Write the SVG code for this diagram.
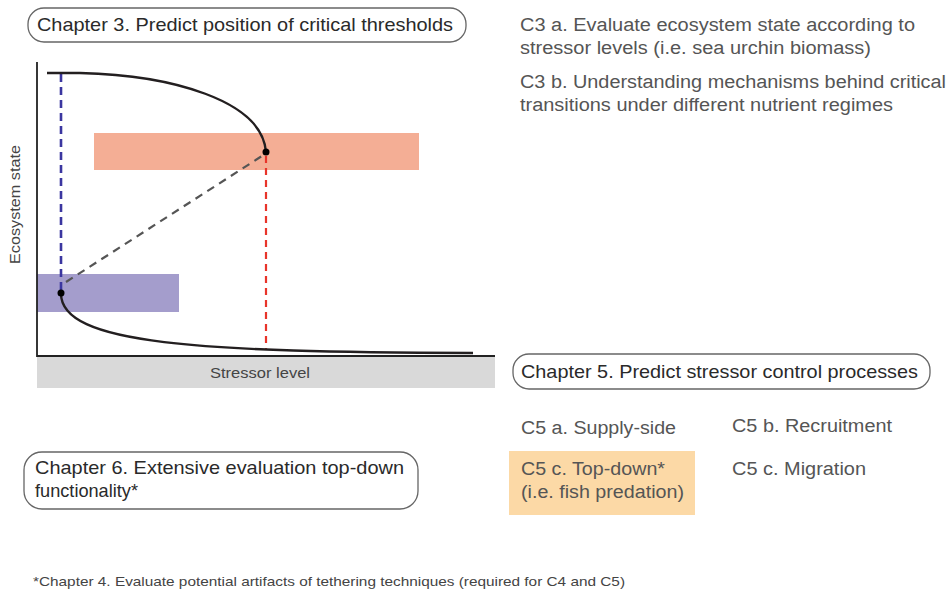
<svg xmlns="http://www.w3.org/2000/svg" width="951" height="590" viewBox="0 0 951 590">
<style>
.t{font-family:"Liberation Sans",Arial,sans-serif;fill:#444;}
.h{font-size:18.5px;fill:#2a2a2a;}
.s{font-size:18px;fill:#555;}
.box{fill:#fff;stroke:#666;stroke-width:1.3;}
.curve{fill:none;stroke:#231f20;stroke-width:2.4;}
</style>
<rect width="951" height="590" fill="#fff"/>
<g id="chapter3">
<rect class="box" x="28" y="8" width="438" height="34" rx="16"/>
<text class="t h" x="37" y="31" textLength="416" lengthAdjust="spacingAndGlyphs">Chapter 3. Predict position of critical thresholds</text>
</g>
<g id="c3-notes">
<text class="t s" x="520" y="31" textLength="395" lengthAdjust="spacingAndGlyphs">C3 a. Evaluate ecosystem state according to</text>
<text class="t s" x="520" y="54" textLength="351" lengthAdjust="spacingAndGlyphs">stressor levels (i.e. sea urchin biomass)</text>
<text class="t s" x="520" y="88" textLength="426" lengthAdjust="spacingAndGlyphs">C3 b. Understanding mechanisms behind critical</text>
<text class="t s" x="520" y="111" textLength="373" lengthAdjust="spacingAndGlyphs">transitions under different nutrient regimes</text>
</g>
<g id="chart">
<rect x="37" y="357" width="458" height="31" fill="#d9d9d9"/>
<text class="t" x="210" y="378" font-size="15" fill="#333" textLength="100" lengthAdjust="spacingAndGlyphs">Stressor level</text>
<text class="t" transform="translate(20,264) rotate(-90)" font-size="14" fill="#333" textLength="119" lengthAdjust="spacingAndGlyphs">Ecosystem state</text>
<rect x="94" y="133" width="325" height="37" fill="#f4ae95"/>
<rect x="37" y="274" width="142" height="38" fill="#a49dcc"/>
<line x1="61" y1="74" x2="61" y2="290" stroke="#3b36a0" stroke-width="2.6" stroke-dasharray="8,5"/>
<line x1="266" y1="156" x2="266" y2="350" stroke="#e8342a" stroke-width="2.2" stroke-dasharray="7,5"/>
<line x1="66" y1="282" x2="262" y2="156" stroke="#555" stroke-width="2.2" stroke-dasharray="8,6"/>
<path class="curve" d="M47,73 L80,73 C170,75 262,100 266,152"/>
<path class="curve" d="M61,293 C60,345 200,352 473,353"/>
<circle cx="266" cy="152" r="3.5" fill="#000"/>
<circle cx="61" cy="293" r="3.5" fill="#000"/>
<path d="M37,62 L37,356 L495,356" fill="none" stroke="#222" stroke-width="1.8"/>
</g>
<g id="chapter5">
<rect class="box" x="513" y="354" width="417" height="35" rx="16"/>
<text class="t h" x="521" y="378" textLength="397" lengthAdjust="spacingAndGlyphs">Chapter 5. Predict stressor control processes</text>
</g>
<g id="c5-notes">
<rect x="509" y="451" width="186" height="64" fill="#fcd9a6"/>
<text class="t s" x="521" y="434" textLength="155" lengthAdjust="spacingAndGlyphs">C5 a. Supply-side</text>
<text class="t s" x="732" y="432" textLength="160" lengthAdjust="spacingAndGlyphs">C5 b. Recruitment</text>
<text class="t s" x="521" y="475" textLength="144" lengthAdjust="spacingAndGlyphs">C5 c. Top-down*</text>
<text class="t s" x="521" y="498" textLength="163" lengthAdjust="spacingAndGlyphs">(i.e. fish predation)</text>
<text class="t s" x="732" y="475" textLength="134" lengthAdjust="spacingAndGlyphs">C5 c. Migration</text>
</g>
<g id="chapter6">
<rect class="box" x="24" y="452" width="394" height="57" rx="18"/>
<text class="t h" x="35" y="474" textLength="369" lengthAdjust="spacingAndGlyphs">Chapter 6. Extensive evaluation top-down</text>
<text class="t h" x="35" y="497" textLength="103" lengthAdjust="spacingAndGlyphs">functionality*</text>
</g>
<g id="footnote">
<text class="t" x="33" y="586" font-size="13" fill="#222" textLength="592" lengthAdjust="spacingAndGlyphs">*Chapter 4. Evaluate potential artifacts of tethering techniques (required for C4 and C5)</text>
</g>
</svg>
